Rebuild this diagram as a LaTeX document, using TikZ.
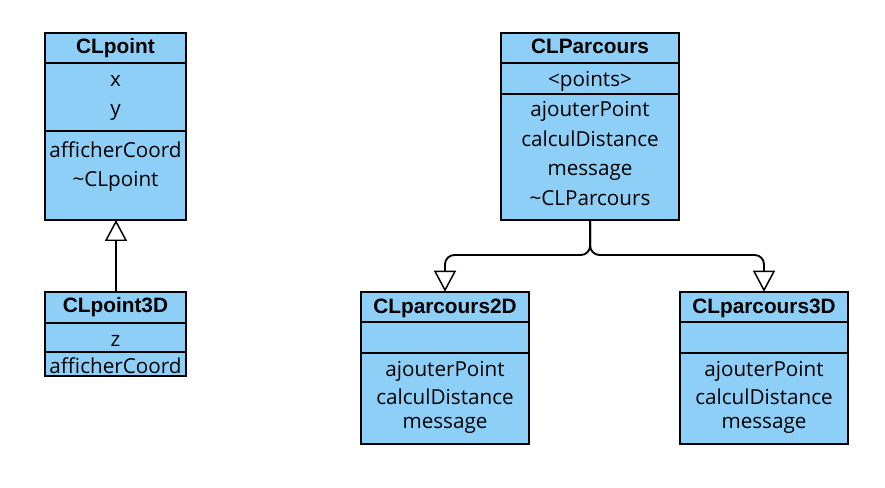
\documentclass[tikz,border=0pt]{standalone}
\usepackage{fontspec}
\setmainfont{Open Sans}
\newfontfamily\titlefont{Liberation Sans}
\usetikzlibrary{arrows.meta}
\definecolor{boxblue}{RGB}{142,207,248}
\begin{document}
\begin{tikzpicture}[x=0.75pt,y=-0.75pt,
  comp/.style={draw=black, fill=boxblue, line width=1.4pt, rectangle, inner sep=0pt, outer sep=0pt, anchor=north west},
  txt/.style={anchor=base, inner sep=0pt, font=\fontsize{15.5}{18}\selectfont},
  ttl/.style={anchor=base, inner sep=0pt, font=\titlefont\bfseries\fontsize{15.6}{18}\selectfont},
  conn/.style={draw=black, line width=1.4pt},
  gen/.style={conn, -{Triangle[open, length=15.75pt, width=16.5pt, line width=1.1pt]}}
]
\useasboundingbox (0,0) rectangle (885,488);
% ---------- CLpoint ----------
\node[comp, minimum width=105.75pt, minimum height=22.5pt] (Ph) at (45,33) {};
\node[comp, minimum width=105.75pt, minimum height=51pt] (Pa) at (45,63) {};
\node[comp, minimum width=105.75pt, minimum height=66.75pt] (Pm) at (45,131) {};
\node[ttl] (Pt) at (115.5,54) {CLpoint};
\node[txt] (Px) at (115.5,86.7) {x};
\node[txt] (Py) at (115.5,116) {y};
\node[txt] (Pm1) at (115.5,157.3) {afficherCoord};
\node[txt] (Pm2) at (115.5,186.7) {\char"7E CLpoint};
% ---------- CLpoint3D ----------
\node[comp, minimum width=105.75pt, minimum height=23pt] (Qh) at (45,292) {};
\node[comp, minimum width=105.75pt, minimum height=22pt] (Qa) at (45,322.7) {};
\node[comp, minimum width=105.75pt, minimum height=18.25pt] (Qm) at (45,352) {};
\node[ttl] (Qt) at (115.5,312.7) {CLpoint3D};
\node[txt] (Qz) at (115.5,346.7) {z};
\node[txt] (Qm1) at (115.5,373.3) {afficherCoord};
% ---------- CLParcours ----------
\node[comp, minimum width=133.7pt, minimum height=22.5pt] (Rh) at (501,33) {};
\node[comp, minimum width=133.7pt, minimum height=23.25pt] (Ra) at (501,63) {};
\node[comp, minimum width=133.7pt, minimum height=94.5pt] (Rm) at (501,94) {};
\node[ttl] (Rt) at (590,53.3) {CLParcours};
\node[txt] (Ra1) at (590,86.7) {<points>};
\node[txt] (Rm1) at (590,116.7) {ajouterPoint};
\node[txt] (Rm2) at (590,146.7) {calculDistance};
\node[txt] (Rm3) at (590,176) {message};
\node[txt] (Rm4) at (590,206) {\char"7E CLParcours};
% ---------- CLparcours2D ----------
\node[comp, minimum width=126pt, minimum height=22.5pt] (Sh) at (361,291.7) {};
\node[comp, minimum width=126pt, minimum height=23.25pt] (Sa) at (361,321.7) {};
\node[comp, minimum width=126pt, minimum height=68.5pt] (Sm) at (361,352.7) {};
\node[ttl] (St) at (445,313.3) {CLparcours2D};
\node[txt] (Sm1) at (445,376) {ajouterPoint};
\node[txt] (Sm2) at (445,404) {calculDistance};
\node[txt] (Sm3) at (445,428.3) {message};
% ---------- CLparcours3D ----------
\node[comp, minimum width=126pt, minimum height=22.5pt] (Th) at (680,291.7) {};
\node[comp, minimum width=126pt, minimum height=23.25pt] (Ta) at (680,321.7) {};
\node[comp, minimum width=126pt, minimum height=68.5pt] (Tm) at (680,352.7) {};
\node[ttl] (Tt) at (764,313.3) {CLparcours3D};
\node[txt] (Tm1) at (764,376) {ajouterPoint};
\node[txt] (Tm2) at (764,404) {calculDistance};
\node[txt] (Tm3) at (764,428.3) {message};
% ---------- connectors ----------
\draw[gen] ([xshift=0.375pt]Qh.north) -- ([xshift=0.375pt]Pm.south);
\coordinate (jL) at (445,255);
\coordinate (jR) at (764,255);
\draw[gen, rounded corners=7pt] (Rm.south) |- (jL) -- (Sh.north);
\draw[gen, rounded corners=7pt] (Rm.south) |- (jR) -- (Th.north);
\end{tikzpicture}
\end{document}
